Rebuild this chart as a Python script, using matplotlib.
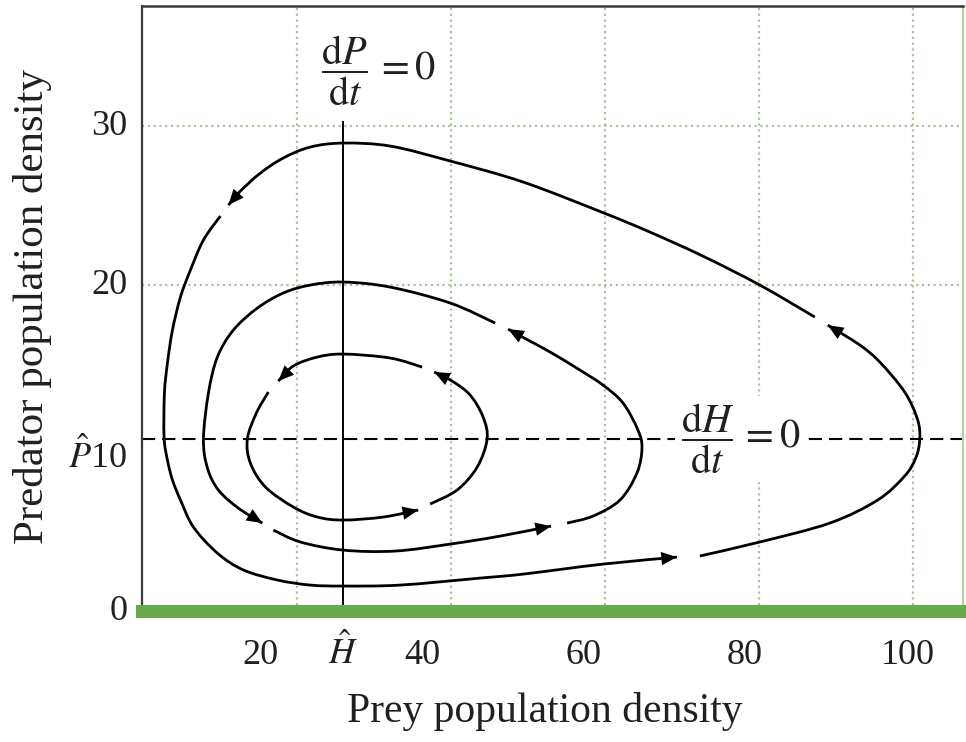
import matplotlib
matplotlib.use('Agg')
import matplotlib.pyplot as plt
from matplotlib.patches import FancyArrowPatch, PathPatch
from matplotlib.path import Path

plt.rcParams['font.family'] = ['Liberation Serif', 'DejaVu Serif']
plt.rcParams['mathtext.fontset'] = 'stix'

# ---------------- data ----------------
H_hat = 26.06          # prey isocline (dP/dt = 0)
P_hat = 10.31          # predator isocline (dH/dt = 0)

grid_x = [20, 40, 60, 80, 100]
grid_y = [20, 30]

xtick_labels = ['20', r'$\hat{H}$', '40', '60', '80', '100']
ytick_labels = ['0', r'$\hat{P}$10', '20', '30']

# outer orbit (three arcs, each ending in an arrowhead; counter-clockwise)
outer_a_x = [87.26, 80.13, 72.74, 65.87, 59.90, 49.40, 39.94, 32.16, 26.06, 21.78, 18.28, 15.30, 12.71, 11.15]
outer_a_y = [17.99, 20.00, 21.82, 23.33, 24.53, 26.48, 27.80, 28.74, 28.93, 28.68, 27.99, 27.04, 25.91, 25.03]
outer_b_x = [10.11, 7.91, 6.22, 4.93, 3.89, 3.24, 2.85, 2.80, 3.24, 3.89, 4.93, 6.61, 9.72, 13.10, 17.50, 21.78,
             26.06, 33.45, 43.83, 49.40, 59.77, 69.37]
outer_b_y = [24.34, 22.83, 20.94, 19.25, 17.17, 15.09, 13.21, 10.44, 8.99, 7.74, 6.48, 4.78, 3.14, 2.08, 1.45, 1.13,
             1.07, 1.13, 1.57, 1.82, 2.45, 2.89]
outer_c_x = [72.35, 80.13, 89.21, 95.43, 98.93, 100.36, 100.88, 100.62, 98.93, 95.69, 93.10, 88.95]
outer_c_y = [2.96, 3.84, 5.03, 6.48, 7.99, 9.12, 10.25, 11.51, 13.27, 15.16, 16.23, 17.48]

# middle orbit
middle_a_x = [45.77, 39.94, 32.16, 26.06, 21.78, 18.28, 14.91, 11.80, 9.72, 8.56, 7.91, 8.43, 9.85, 12.45, 15.56]
middle_a_y = [17.61, 18.87, 19.87, 20.19, 20.00, 19.50, 18.55, 17.17, 15.47, 13.21, 10.31, 8.49, 7.11, 5.97, 5.03]
middle_b_x = [16.99, 20.49, 26.06, 32.80, 39.94, 46.42, 53.03]
middle_b_y = [4.59, 3.84, 3.33, 3.27, 3.71, 4.21, 4.84]
middle_c_x = [55.11, 58.48, 61.98, 64.18, 64.83, 64.31, 62.37, 59.77, 56.79, 52.90, 49.53, 47.46]
middle_c_y = [5.03, 5.47, 6.48, 8.18, 9.75, 10.88, 12.58, 13.71, 14.65, 15.79, 16.67, 17.23]

# inner orbit
inner_a_x = [36.30, 32.16, 26.06, 22.69, 19.58, 17.63]
inner_a_y = [14.84, 15.41, 15.66, 15.47, 14.91, 13.96]
inner_b_x = [16.34, 14.78, 13.61, 14.00, 15.95, 19.58, 22.69, 26.06, 31.25, 35.79]
inner_b_y = [13.27, 11.95, 10.31, 8.81, 7.30, 6.04, 5.41, 5.22, 5.41, 5.85]
inner_c_x = [37.34, 40.84, 43.44, 44.73, 44.21, 42.53, 40.19, 37.86]
inner_c_y = [6.23, 7.11, 8.55, 10.31, 11.70, 13.08, 13.96, 14.53]

segments = [
    (outer_a_x, outer_a_y), (outer_b_x, outer_b_y), (outer_c_x, outer_c_y),
    (middle_a_x, middle_a_y), (middle_b_x, middle_b_y), (middle_c_x, middle_c_y),
    (inner_a_x, inner_a_y), (inner_b_x, inner_b_y), (inner_c_x, inner_c_y),
]


def smooth_path(xs, ys):
    """Cubic Bezier path passing through the read points (Catmull-Rom tangents)."""
    pts = list(zip(xs, ys))
    n = len(pts)
    verts = [pts[0]]
    codes = [Path.MOVETO]
    for i in range(n - 1):
        p0 = pts[i - 1] if i > 0 else pts[i]
        p1 = pts[i]
        p2 = pts[i + 1]
        p3 = pts[i + 2] if i + 2 < n else pts[i + 1]
        c1 = (p1[0] + (p2[0] - p0[0]) / 6.0, p1[1] + (p2[1] - p0[1]) / 6.0)
        c2 = (p2[0] - (p3[0] - p1[0]) / 6.0, p2[1] - (p3[1] - p1[1]) / 6.0)
        verts += [c1, c2, p2]
        codes += [Path.CURVE4, Path.CURVE4, Path.CURVE4]
    return Path(verts, codes)


# ---------------- layout / style ----------------
INK = '#231f20'
GREEN = '#6aa84f'
GRIDC = '#a9c29b'

fig = plt.figure(figsize=(9.66, 7.42), dpi=100)
ax = fig.add_axes([0.1475, 0.1759, 0.8494, 0.8160])
ax.set_xlim(0, 106.5)
ax.set_ylim(-0.53, 37.55)

# grid (minor ticks)
ax.set_xticks(grid_x, minor=True)
ax.set_yticks(grid_y, minor=True)
ax.grid(which='minor', color=GRIDC, linestyle=(0, (1, 1.6)), linewidth=1.6)
ax.tick_params(which='both', length=0)

# tick labels (major ticks)
xtick_pos = [15.3, H_hat, 36.37, 57.2, 78.2, 99.4]
ax.set_xticks(xtick_pos)
ax.set_xticklabels(xtick_labels, fontsize=26, color=INK)
for lab in ax.get_xticklabels():
    lab.set_verticalalignment('baseline')
ax.tick_params(axis='x', which='major', pad=38)

ytick_pos = [-0.25, 9.45, 20.2, 30.25]
ax.set_yticks(ytick_pos)
ax.set_yticklabels(ytick_labels, fontsize=26, color=INK)
ax.tick_params(axis='y', which='major', pad=11)

# spines
ax.spines['bottom'].set_color(GREEN)
ax.spines['bottom'].set_linewidth(9.4)
ax.spines['left'].set_color('#3a3a3a')
ax.spines['left'].set_linewidth(1.6)
ax.spines['top'].set_color('#3a3a3a')
ax.spines['top'].set_linewidth(1.8)
ax.spines['right'].set_color('#b5d4a0')
ax.spines['right'].set_linewidth(1.6)

# isoclines
ax.plot([H_hat, H_hat], [-0.53, 30.25], color='black', lw=1.4, zorder=2)
ax.axhline(P_hat, color='black', lw=1.5, dashes=(6.3, 3.4), zorder=2)

# orbits with arrowheads
for xs, ys in segments:
    ax.add_patch(PathPatch(smooth_path(xs, ys), facecolor='none', edgecolor='black',
                           lw=2.0, capstyle='butt', zorder=3))
    arr = FancyArrowPatch((xs[-2], ys[-2]), (xs[-1], ys[-1]),
                          arrowstyle='-|>,head_length=0.75,head_width=0.32',
                          mutation_scale=15, color='black', lw=0,
                          shrinkA=0, shrinkB=0, zorder=4)
    ax.add_patch(arr)

# isocline labels
ax.text(30.7, 33.5, r'$\dfrac{\mathrm{d}P}{\mathrm{d}t}\,= 0$', fontsize=29,
        ha='center', va='center', color=INK, zorder=5)
ax.text(77.6, P_hat, r'$\dfrac{\mathrm{d}H}{\mathrm{d}t}\,= 0$', fontsize=29,
        ha='center', va='center', color=INK, zorder=5,
        bbox=dict(facecolor='white', edgecolor='none', boxstyle='square,pad=0.15'))

# axis labels
ax.set_xlabel('Prey population density', fontsize=30, color=INK)
ax.xaxis.set_label_coords(0.4906, -0.166)
ax.xaxis.label.set_verticalalignment('center')
ax.set_ylabel('Predator population density', fontsize=31, color=INK)
ax.yaxis.set_label_coords(-0.1335, 0.5045)
ax.yaxis.label.set_verticalalignment('center')

fig.savefig('out.png', dpi=100)
